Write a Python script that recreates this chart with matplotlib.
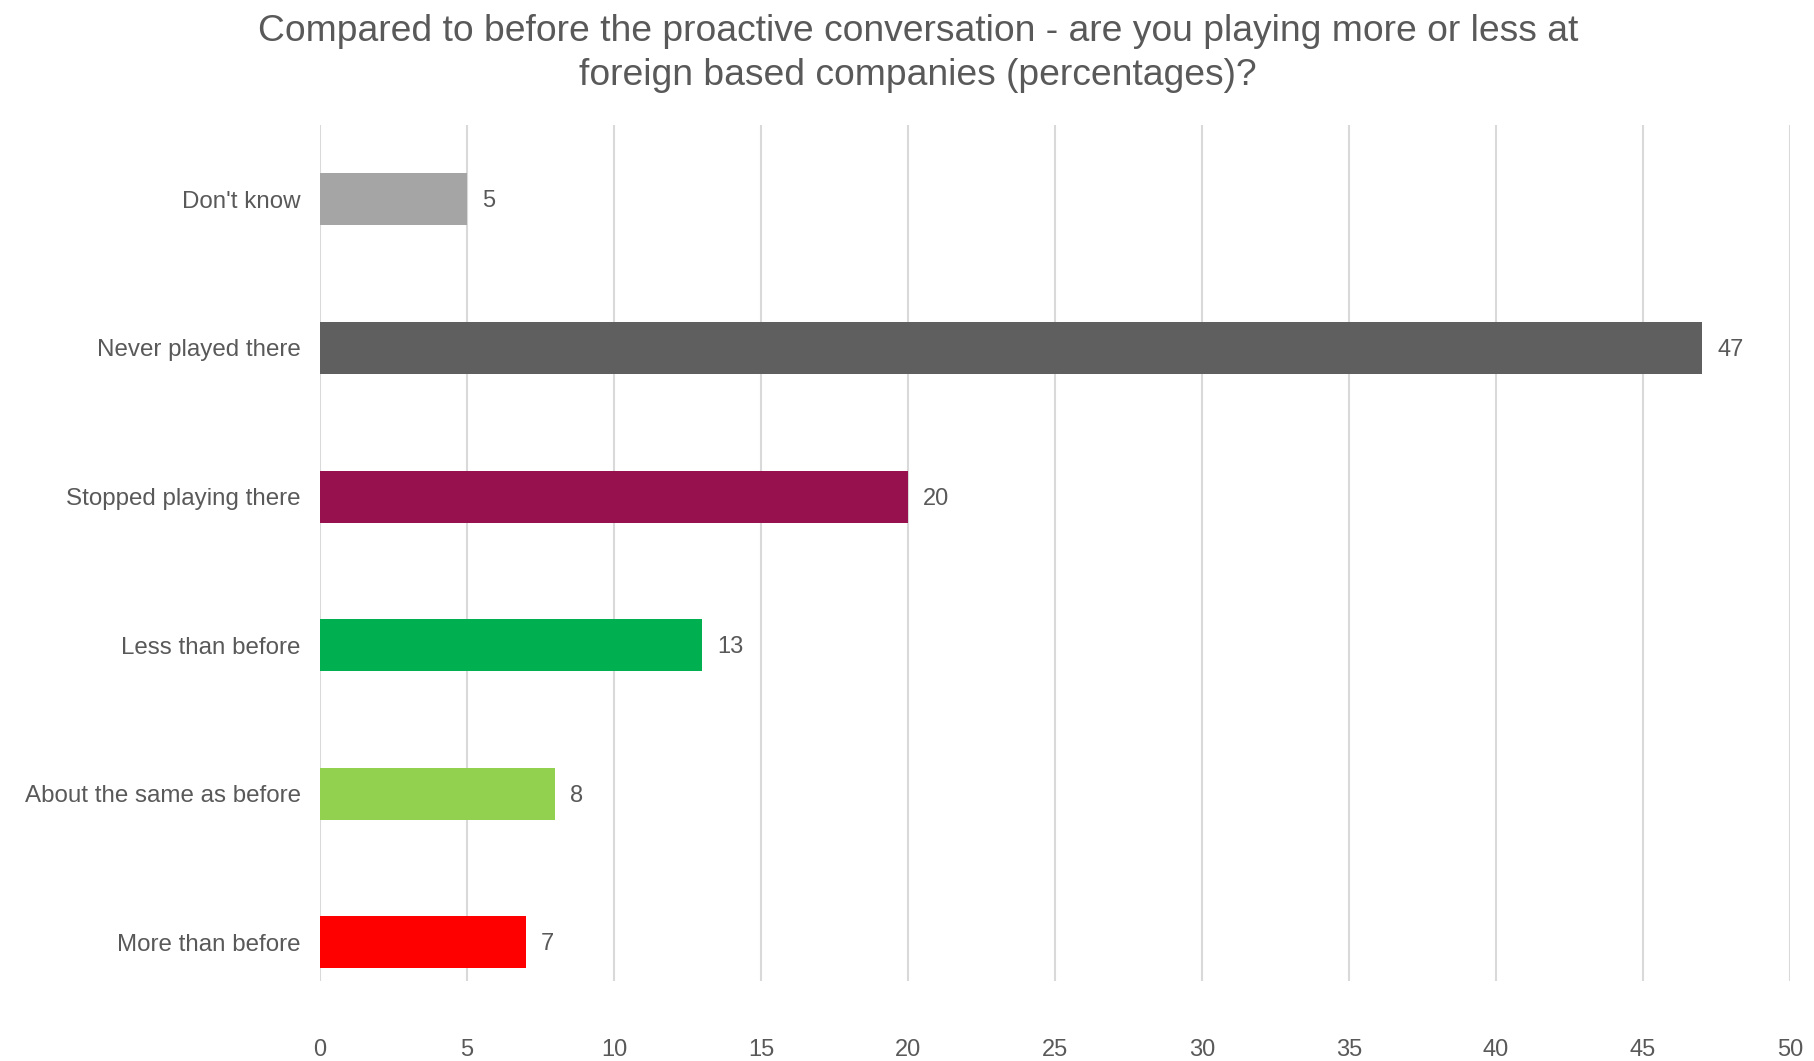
import matplotlib.pyplot as plt

categories = ["More than before", "About the same as before", "Less than before",
              "Stopped playing there", "Never played there", "Don't know"]
values = [7, 8, 13, 20, 47, 5]
colors = ["#FF0000", "#92D050", "#00B050", "#97114F", "#5F5F5F", "#A5A5A5"]
xticks = [0, 5, 10, 15, 20, 25, 30, 35, 40, 45, 50]
title_lines = ["Compared to before the proactive conversation - are you playing more or less at",
               "foreign based companies (percentages)?"]

plt.rcParams['font.family'] = ['Liberation Sans', 'DejaVu Sans']
text_color = "#595959"

fig = plt.figure(figsize=(18.14, 10.61), dpi=100)
ax = fig.add_axes([0.1764, 0.0754, 0.8104, 0.8068])

ypos = list(range(len(categories)))
ax.barh(ypos, values, height=0.35, color=colors, zorder=3)
for y, v in zip(ypos, values):
    ax.annotate(str(v), (v, y), xytext=(11, -1.5), textcoords="offset points",
                va="center", ha="left", fontsize=17, color=text_color)

ax.set_xlim(0, 50)
ax.set_ylim(-0.26, 5.5)
ax.set_xticks(xticks)
ax.set_yticks(ypos)
ax.set_yticklabels(categories)
ax.tick_params(axis="both", length=0, labelsize=17, colors=text_color)
ax.tick_params(axis="y", pad=14, labelsize=17.4)
ax.tick_params(axis="x", pad=42)
ax.xaxis.grid(True, color="#D9D9D9", linewidth=1.5, zorder=0)
for s in ax.spines.values():
    s.set_visible(False)

fig.text(0.506, 0.970, title_lines[0], ha="center", va="center", fontsize=26.8, color=text_color)
fig.text(0.506, 0.929, title_lines[1], ha="center", va="center", fontsize=26.8, color=text_color)

fig.savefig("out.png", dpi=100)
